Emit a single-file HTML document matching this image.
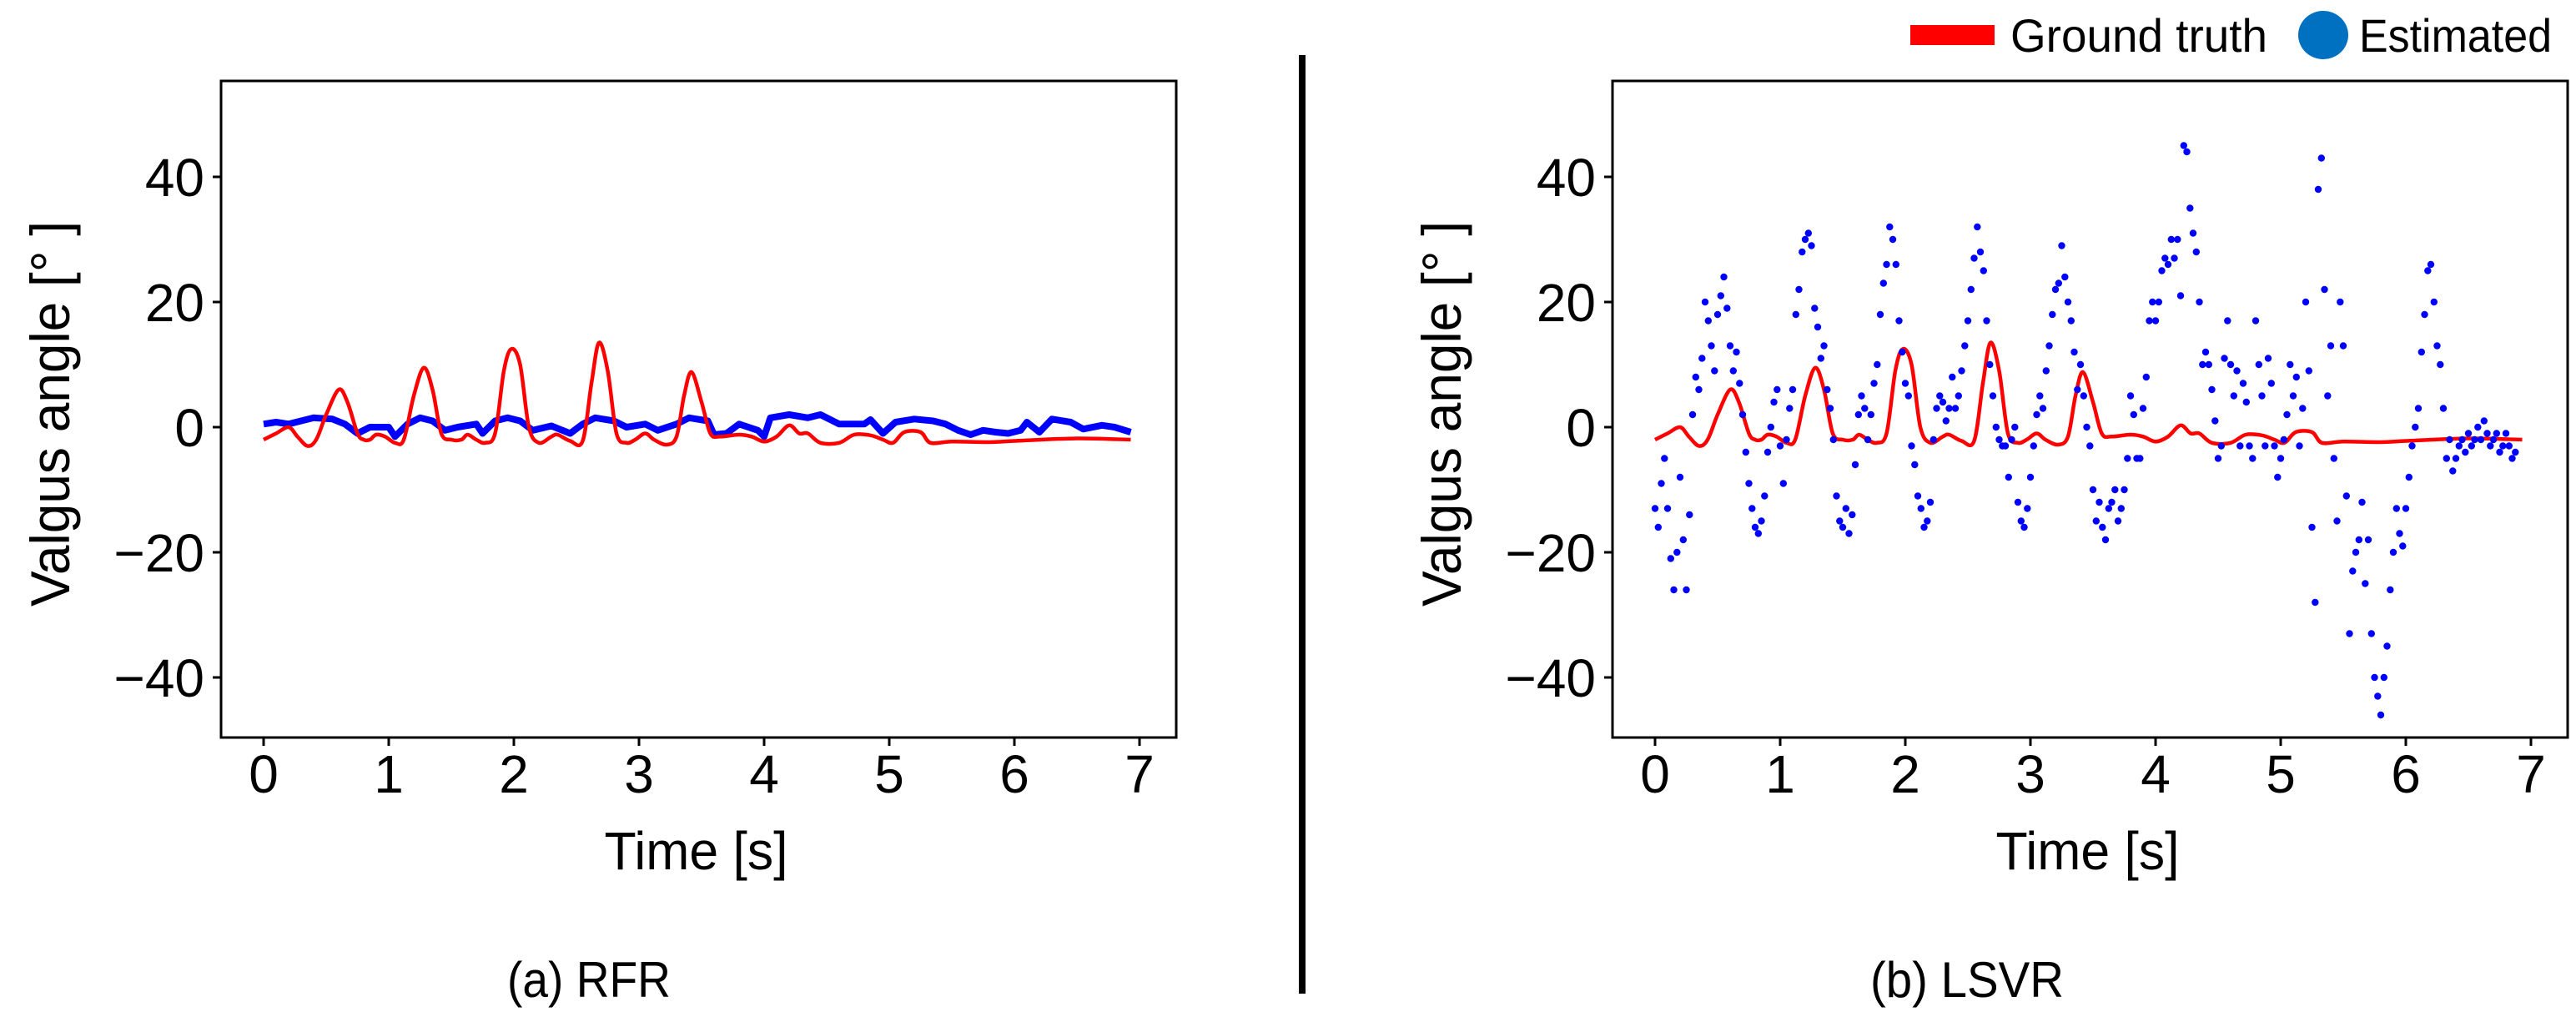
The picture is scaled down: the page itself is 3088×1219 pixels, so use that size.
<!DOCTYPE html>
<html><head><meta charset="utf-8"><style>
html,body{margin:0;padding:0;background:#fff;}
svg{display:block;font-family:"Liberation Sans","Noto Sans CJK JP",sans-serif;}
</style></head><body>
<svg id="fig" width="3088" height="1219" viewBox="0 0 3088 1219" xmlns="http://www.w3.org/2000/svg">
<rect x="0" y="0" width="3088" height="1219" fill="#fff"/>
<line x1="1561" y1="66" x2="1561" y2="1191" stroke="#000" stroke-width="8"/>
<g>
 <rect x="2290" y="30" width="101" height="24" fill="#ff0000"/>
 <text x="2410" y="62" font-size="56" textLength="308" lengthAdjust="spacingAndGlyphs">Ground truth</text>
 <ellipse cx="2785" cy="42" rx="30" ry="29" fill="#0070c0"/>
 <text x="2828" y="62" font-size="56" textLength="231" lengthAdjust="spacingAndGlyphs">Estimated</text>
</g>
<text x="706" y="1195" font-size="60" text-anchor="middle" textLength="196" lengthAdjust="spacingAndGlyphs">(a) RFR</text>
<text x="2358" y="1195" font-size="60" text-anchor="middle" textLength="232" lengthAdjust="spacingAndGlyphs">(b) LSVR</text>
</svg>
<script>
const xTicks=[0,1,2,3,4,5,6,7];
const yTicks=[40,20,0,-20,-40];
const gtT=[0,0.1,0.2,0.27,0.35,0.42,0.5,0.6,0.67,0.75,0.8,0.85,0.9,0.97,1.05,1.12,1.2,1.28,1.35,1.42,1.5,1.58,1.63,1.7,1.77,1.85,1.92,1.98,2.05,2.12,2.2,2.3,2.35,2.45,2.55,2.62,2.68,2.75,2.82,2.9,2.97,3.05,3.12,3.22,3.3,3.36,3.42,3.5,3.57,3.65,3.8,3.9,4.0,4.1,4.2,4.28,4.35,4.45,4.6,4.72,4.85,4.95,5.03,5.12,5.25,5.33,5.5,5.8,6.0,6.5,6.93];
const gtV=[-2,-1,0,-1.5,-3,-2,2,6,4,-1,-2,-2,-1.2,-1.5,-2.5,-2,5,9.5,6,-1,-2,-2,-1.2,-2,-2.5,-1,9,12.5,10,0,-2.5,-1.5,-1.2,-2.2,-2.2,7,13.5,9,-1,-2.5,-2,-1,-2,-2.8,-1.5,5,8.8,4,-1,-1.5,-1.2,-1.5,-2.3,-1.5,0.3,-1,-1,-2.5,-2.5,-1.2,-1.3,-2,-2.5,-0.8,-0.8,-2.5,-2.3,-2.4,-2.2,-1.8,-2];
const rfrT=[0,0.1,0.2,0.3,0.4,0.55,0.65,0.75,0.85,1.0,1.05,1.15,1.25,1.35,1.45,1.55,1.7,1.75,1.85,1.95,2.05,2.15,2.3,2.45,2.55,2.65,2.8,2.9,3.05,3.15,3.3,3.4,3.55,3.6,3.7,3.8,3.95,4.0,4.05,4.2,4.35,4.45,4.6,4.8,4.85,4.95,5.05,5.2,5.35,5.45,5.55,5.65,5.75,5.85,5.95,6.05,6.1,6.2,6.3,6.45,6.55,6.7,6.8,6.93];
const rfrV=[0.5,0.8,0.5,1,1.5,1.3,0.5,-1,0,0,-1.5,0.5,1.5,1,-0.5,0,0.5,-1,1,1.5,1,-0.5,0.2,-1,0.5,1.5,1,0,0.5,-0.5,0.5,1.5,1,-1.2,-1,0.5,-0.5,-1.5,1.5,2,1.5,2,0.5,0.5,1.2,-1,0.8,1.3,1,0.5,-0.5,-1.2,-0.5,-0.8,-1,-0.5,0.8,-0.8,1.3,0.8,-0.3,0.3,0,-0.8];
const lsvrStep=0.025;
const lsvrV=[-13,-16,-9,-5, -13,-21,-26,-20, -8,-18,-26,-14, 2,8,6,11, 20,17,13,9, 18,21,24,19, 13,9,12,7, 2,-4,-9,-13, -16,-17,-15,-11, -4,0,4,6, -3,-9,-2,3, 6,18,22,28, 30,31,29,19, 16,11,13,6, 3,-2,-11,-15, -16,-13,-17,-14, -6,2,5,3, -2,2,7,10, 18,23,26,32, 30,26,17,12, 7,5,-3,-6, -11,-13,-16,-15, -12,-2,3,5, 4,1,3,8, 3,5,9,13, 17,22,27,32, 28,25,17,10, 5,0,-2,-3, -3,-8,-2,0, -12,-15,-16,-13, -8,-3,2,5, 3,9,13,18, 22,23,29,24, 20,17,12,6, 10,5,0,-3, -10,-15,-12,-16, -18,-13,-12,-10, -15,-13,-10,-5, 5,2,-5,-5, 3,8,17,20, 17,20,25,27, 26,30,27,30, 21,45,44,35, 31,28,20,10, 12,10,6,1, -5,-3,11,17, 10,5,9,-3, 7,4,-3,-5, 17,10,5,-3, 11,7,-3,-8, -5,-2,2,10, 5,8,-3,3, 20,9,-16,-28, 38,43,22,5, 13,-5,-15,20, 13,-11,-33,-23, -20,-18,-12,-25, -18,-33,-40,-43, -46,-40,-35,-26, -20,-13,-17,-19, -13,-8,-3,0, 3,12,18,25, 26,20,13,10, 3,-5,-2,-7, -5,-3,-2,-4, -1,-3,-2,0, -2,1,-1,-3, -2,-1,-4,-3, -1,-3,-5,-4];

const NS='http://www.w3.org/2000/svg';
const svg=document.getElementById('fig');
function mk(tag,attrs,parent){const e=document.createElementNS(NS,tag);for(const k in attrs)e.setAttribute(k,attrs[k]);(parent||svg).appendChild(e);return e;}
function smooth(px,py){
  let d='M'+px[0].toFixed(1)+','+py[0].toFixed(1);
  for(let i=0;i<px.length-1;i++){
    const i0=Math.max(0,i-1),i3=Math.min(px.length-1,i+2);
    const c1x=px[i]+(px[i+1]-px[i0])/6,c1y=py[i]+(py[i+1]-py[i0])/6;
    const c2x=px[i+1]-(px[i3]-px[i])/6,c2y=py[i+1]-(py[i3]-py[i])/6;
    d+='C'+c1x.toFixed(1)+','+c1y.toFixed(1)+' '+c2x.toFixed(1)+','+c2y.toFixed(1)+' '+px[i+1].toFixed(1)+','+py[i+1].toFixed(1);
  }
  return d;
}

function panel(left,top,right,bottom,x0,key){
  const xs=t=>x0+150*t;
  const ys=v=>512-7.5*v;
  const g=mk('g',{});
  
  
  xTicks.forEach(t=>{
    const l=mk('line',{x1:xs(t),x2:xs(t),y1:bottom,y2:bottom+10,stroke:'#000','stroke-width':3},g);
    
    
    const tx=mk('text',{x:xs(t),y:950,'font-size':64,'text-anchor':'middle'},g);
    tx.textContent=String(t);
    
    
  });
  yTicks.forEach(v=>{
    const l=mk('line',{x1:left-10,x2:left,y1:ys(v),y2:ys(v),stroke:'#000','stroke-width':3},g);
    
    
    const tx=mk('text',{x:left-20,y:ys(v)+23,'font-size':64,'text-anchor':'end'},g);
    tx.textContent=(v<0?'\u2212':'')+Math.abs(v);
    
    
  });
  const xl=mk('text',{x:(left+right)/2-3,y:1042,'font-size':64,'text-anchor':'middle',textLength:220,lengthAdjust:'spacingAndGlyphs'},g);
  xl.textContent='Time [s]';
  
  
  const yx=left-182;
  const yl=mk('text',{x:0,y:0,'font-size':66,'text-anchor':'middle',textLength:462,lengthAdjust:'spacingAndGlyphs',transform:'translate('+yx+',496) rotate(-90)'},g);
  yl.textContent='Valgus angle [° ]';
  
  
  const d=smooth(gtT.map(xs),gtV.map(ys));
  if(key==='rfr'){
    let d2='';rfrT.forEach((t,i)=>{d2+=(i?'L':'M')+xs(t).toFixed(1)+','+ys(rfrV[i]).toFixed(1);});
    const b=mk('path',{d:d2,fill:'none',stroke:'#0000ff','stroke-width':8,'stroke-linejoin':'round'},g);
    
    
    const r=mk('path',{d:d,fill:'none',stroke:'#ff0000','stroke-width':4.5,'stroke-linejoin':'round'},g);
    
    
  } else {
    const r=mk('path',{d:d,fill:'none',stroke:'#ff0000','stroke-width':4.5,'stroke-linejoin':'round'},g);
    
    
    lsvrV.forEach((v,i)=>{
      const c=mk('circle',{cx:xs(i*lsvrStep).toFixed(1),cy:ys(v).toFixed(1),r:4.2,fill:'#0000ff'},g);
      
      
    });
  }
  const f=mk('rect',{x:left,y:top,width:right-left,height:bottom-top,fill:'none',stroke:'#000','stroke-width':3},g);
  
  
}
panel(265,97,1410,884,316,'rfr');
panel(1933,97,3078,884,1984,'lsvr');
</script>
</body></html>
